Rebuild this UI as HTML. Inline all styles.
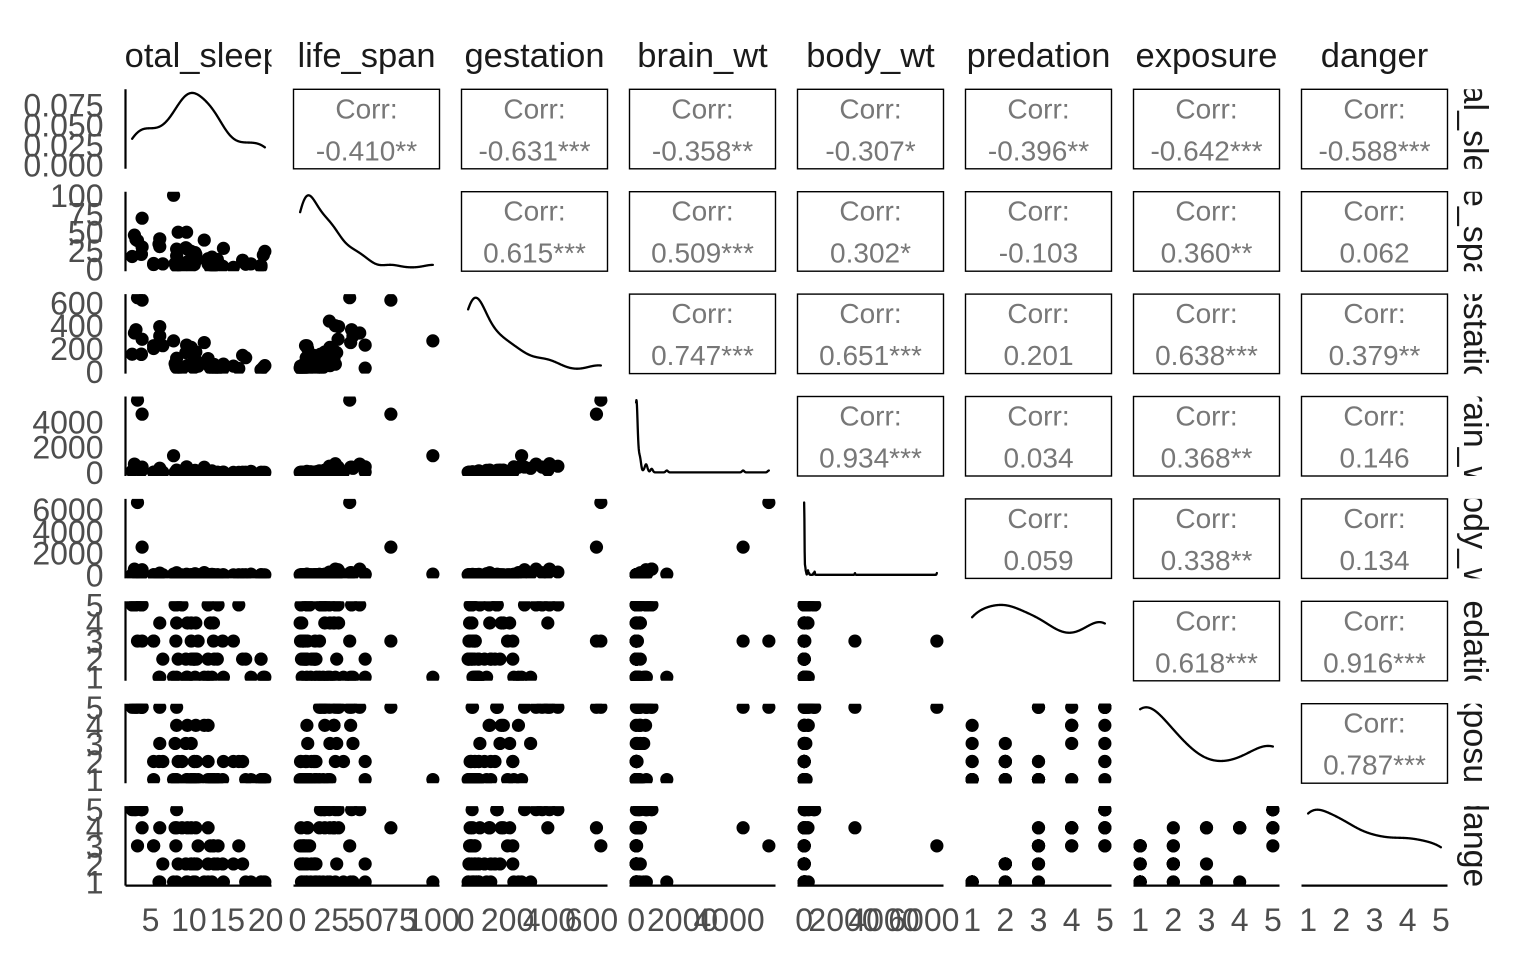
<!DOCTYPE html>
<html><head><meta charset="utf-8">
<style>
html,body{margin:0;padding:0;background:#fff;}
svg{display:block;}
text{font-family:"Liberation Sans", Arial, sans-serif;}
</style></head>
<body>
<svg id="s" width="1536" height="960" viewBox="0 0 1536 960" xmlns="http://www.w3.org/2000/svg">
<rect width="1536" height="960" fill="#fff"/>
<defs id="dd">
<clipPath id="hc1"><rect x="125.5" y="0" width="146" height="89"/></clipPath>
<clipPath id="hc2"><rect x="293.5" y="0" width="146" height="89"/></clipPath>
<clipPath id="hc3"><rect x="461.5" y="0" width="146" height="89"/></clipPath>
<clipPath id="hc4"><rect x="629.5" y="0" width="146" height="89"/></clipPath>
<clipPath id="hc5"><rect x="797.5" y="0" width="146" height="89"/></clipPath>
<clipPath id="hc6"><rect x="965.5" y="0" width="146" height="89"/></clipPath>
<clipPath id="hc7"><rect x="1133.5" y="0" width="146" height="89"/></clipPath>
<clipPath id="hc8"><rect x="1301.5" y="0" width="146" height="89"/></clipPath>
<clipPath id="rs1"><rect x="1440" y="89.3" width="96" height="79.5"/></clipPath>
<clipPath id="rs2"><rect x="1440" y="191.7" width="96" height="79.5"/></clipPath>
<clipPath id="rs3"><rect x="1440" y="294.1" width="96" height="79.5"/></clipPath>
<clipPath id="rs4"><rect x="1440" y="396.5" width="96" height="79.5"/></clipPath>
<clipPath id="rs5"><rect x="1440" y="498.9" width="96" height="79.5"/></clipPath>
<clipPath id="rs6"><rect x="1440" y="601.3" width="96" height="79.5"/></clipPath>
<clipPath id="rs7"><rect x="1440" y="703.7" width="96" height="79.5"/></clipPath>
<clipPath id="rs8"><rect x="1440" y="806.1" width="96" height="79.5"/></clipPath>
</defs>

<g id="plots"></g>

<!-- axis lines -->
<g stroke="#000" stroke-width="2.2" fill="none">
<line x1="125.5" y1="89.3" x2="125.5" y2="168.8"/>
<line x1="125.5" y1="191.7" x2="125.5" y2="271.2"/>
<line x1="125.5" y1="294.1" x2="125.5" y2="373.6"/>
<line x1="125.5" y1="396.5" x2="125.5" y2="476"/>
<line x1="125.5" y1="498.9" x2="125.5" y2="578.4"/>
<line x1="125.5" y1="601.3" x2="125.5" y2="680.8"/>
<line x1="125.5" y1="703.7" x2="125.5" y2="783.2"/>
<line x1="125.5" y1="806.1" x2="125.5" y2="885.6"/>
<line x1="125.5" y1="885.6" x2="271.5" y2="885.6"/>
<line x1="293.5" y1="885.6" x2="439.5" y2="885.6"/>
<line x1="461.5" y1="885.6" x2="607.5" y2="885.6"/>
<line x1="629.5" y1="885.6" x2="775.5" y2="885.6"/>
<line x1="797.5" y1="885.6" x2="943.5" y2="885.6"/>
<line x1="965.5" y1="885.6" x2="1111.5" y2="885.6"/>
<line x1="1133.5" y1="885.6" x2="1279.5" y2="885.6"/>
<line x1="1301.5" y1="885.6" x2="1447.5" y2="885.6"/>
</g>

<!-- correlation boxes -->
<g fill="none" stroke="#000" stroke-width="1.4">
<rect x="293.5" y="89.3" width="146" height="79.5"/>
<rect x="461.5" y="89.3" width="146" height="79.5"/>
<rect x="629.5" y="89.3" width="146" height="79.5"/>
<rect x="797.5" y="89.3" width="146" height="79.5"/>
<rect x="965.5" y="89.3" width="146" height="79.5"/>
<rect x="1133.5" y="89.3" width="146" height="79.5"/>
<rect x="1301.5" y="89.3" width="146" height="79.5"/>
<rect x="461.5" y="191.7" width="146" height="79.5"/>
<rect x="629.5" y="191.7" width="146" height="79.5"/>
<rect x="797.5" y="191.7" width="146" height="79.5"/>
<rect x="965.5" y="191.7" width="146" height="79.5"/>
<rect x="1133.5" y="191.7" width="146" height="79.5"/>
<rect x="1301.5" y="191.7" width="146" height="79.5"/>
<rect x="629.5" y="294.1" width="146" height="79.5"/>
<rect x="797.5" y="294.1" width="146" height="79.5"/>
<rect x="965.5" y="294.1" width="146" height="79.5"/>
<rect x="1133.5" y="294.1" width="146" height="79.5"/>
<rect x="1301.5" y="294.1" width="146" height="79.5"/>
<rect x="797.5" y="396.5" width="146" height="79.5"/>
<rect x="965.5" y="396.5" width="146" height="79.5"/>
<rect x="1133.5" y="396.5" width="146" height="79.5"/>
<rect x="1301.5" y="396.5" width="146" height="79.5"/>
<rect x="965.5" y="498.9" width="146" height="79.5"/>
<rect x="1133.5" y="498.9" width="146" height="79.5"/>
<rect x="1301.5" y="498.9" width="146" height="79.5"/>
<rect x="1133.5" y="601.3" width="146" height="79.5"/>
<rect x="1301.5" y="601.3" width="146" height="79.5"/>
<rect x="1301.5" y="703.7" width="146" height="79.5"/>
</g>

<g font-size="28" fill="#777" text-anchor="middle">
<text x="366.5" y="118.3">Corr:</text><text x="366.5" y="160.3">-0.410**</text>
<text x="534.5" y="118.3">Corr:</text><text x="534.5" y="160.3">-0.631***</text>
<text x="702.5" y="118.3">Corr:</text><text x="702.5" y="160.3">-0.358**</text>
<text x="870.5" y="118.3">Corr:</text><text x="870.5" y="160.3">-0.307*</text>
<text x="1038.5" y="118.3">Corr:</text><text x="1038.5" y="160.3">-0.396**</text>
<text x="1206.5" y="118.3">Corr:</text><text x="1206.5" y="160.3">-0.642***</text>
<text x="1374.5" y="118.3">Corr:</text><text x="1374.5" y="160.3">-0.588***</text>

<text x="534.5" y="220.7">Corr:</text><text x="534.5" y="262.7">0.615***</text>
<text x="702.5" y="220.7">Corr:</text><text x="702.5" y="262.7">0.509***</text>
<text x="870.5" y="220.7">Corr:</text><text x="870.5" y="262.7">0.302*</text>
<text x="1038.5" y="220.7">Corr:</text><text x="1038.5" y="262.7">-0.103</text>
<text x="1206.5" y="220.7">Corr:</text><text x="1206.5" y="262.7">0.360**</text>
<text x="1374.5" y="220.7">Corr:</text><text x="1374.5" y="262.7">0.062</text>

<text x="702.5" y="323.1">Corr:</text><text x="702.5" y="365.1">0.747***</text>
<text x="870.5" y="323.1">Corr:</text><text x="870.5" y="365.1">0.651***</text>
<text x="1038.5" y="323.1">Corr:</text><text x="1038.5" y="365.1">0.201</text>
<text x="1206.5" y="323.1">Corr:</text><text x="1206.5" y="365.1">0.638***</text>
<text x="1374.5" y="323.1">Corr:</text><text x="1374.5" y="365.1">0.379**</text>

<text x="870.5" y="425.5">Corr:</text><text x="870.5" y="467.5">0.934***</text>
<text x="1038.5" y="425.5">Corr:</text><text x="1038.5" y="467.5">0.034</text>
<text x="1206.5" y="425.5">Corr:</text><text x="1206.5" y="467.5">0.368**</text>
<text x="1374.5" y="425.5">Corr:</text><text x="1374.5" y="467.5">0.146</text>

<text x="1038.5" y="527.9">Corr:</text><text x="1038.5" y="569.9">0.059</text>
<text x="1206.5" y="527.9">Corr:</text><text x="1206.5" y="569.9">0.338**</text>
<text x="1374.5" y="527.9">Corr:</text><text x="1374.5" y="569.9">0.134</text>

<text x="1206.5" y="630.3">Corr:</text><text x="1206.5" y="672.3">0.618***</text>
<text x="1374.5" y="630.3">Corr:</text><text x="1374.5" y="672.3">0.916***</text>

<text x="1374.5" y="732.7">Corr:</text><text x="1374.5" y="774.7">0.787***</text>
</g>

<!-- column strip labels -->
<g font-size="34.5" fill="#1a1a1a" text-anchor="middle">
<text x="198.5" y="67" clip-path="url(#hc1)">total_sleep</text>
<text x="366.5" y="67" clip-path="url(#hc2)">life_span</text>
<text x="534.5" y="67" clip-path="url(#hc3)">gestation</text>
<text x="702.5" y="67" clip-path="url(#hc4)">brain_wt</text>
<text x="870.5" y="67" clip-path="url(#hc5)">body_wt</text>
<text x="1038.5" y="67" clip-path="url(#hc6)">predation</text>
<text x="1206.5" y="67" clip-path="url(#hc7)">exposure</text>
<text x="1374.5" y="67" clip-path="url(#hc8)">danger</text>
</g>

<!-- row strip labels -->
<g font-size="34" fill="#1a1a1a" text-anchor="middle">
<g clip-path="url(#rs1)"><text transform="translate(1464,129.05) rotate(90)">total_sleep</text></g>
<g clip-path="url(#rs2)"><text transform="translate(1464,231.45) rotate(90)">life_span</text></g>
<g clip-path="url(#rs3)"><text transform="translate(1464,333.85) rotate(90)">gestation</text></g>
<g clip-path="url(#rs4)"><text transform="translate(1464,436.25) rotate(90)">brain_wt</text></g>
<g clip-path="url(#rs5)"><text transform="translate(1464,538.65) rotate(90)">body_wt</text></g>
<g clip-path="url(#rs6)"><text transform="translate(1464,641.05) rotate(90)">predation</text></g>
<g clip-path="url(#rs7)"><text transform="translate(1464,743.45) rotate(90)">exposure</text></g>
<g clip-path="url(#rs8)"><text transform="translate(1464,845.85) rotate(90)">danger</text></g>
</g>

<!-- y tick labels -->
<g font-size="32" fill="#4d4d4d" text-anchor="end">
<text id="y1a" x="103.5" y="116.2">0.075</text>
<text id="y1b" x="103.5" y="136.3">0.050</text>
<text id="y1c" x="103.5" y="156.3">0.025</text>
<text id="y1d" x="103.5" y="176.7">0.000</text>

<text x="103.5" y="206.8">100</text>
<text x="103.5" y="225.3">75</text>
<text x="103.5" y="243.7">50</text>
<text x="103.5" y="262.1">25</text>
<text x="103.5" y="280.6">0</text>

<text x="103.5" y="314.4">600</text>
<text x="103.5" y="337.2">400</text>
<text x="103.5" y="360.0">200</text>
<text x="103.5" y="382.9">0</text>

<text x="103.5" y="433.3">4000</text>
<text x="103.5" y="458.6">2000</text>
<text x="103.5" y="483.9">0</text>

<text x="103.5" y="521.1">6000</text>
<text x="103.5" y="542.8">4000</text>
<text x="103.5" y="564.6">2000</text>
<text x="103.5" y="586.3">0</text>

<text x="103.5" y="616.4">5</text>
<text x="103.5" y="634.5">4</text>
<text x="103.5" y="652.6">3</text>
<text x="103.5" y="670.6">2</text>
<text x="103.5" y="688.7">1</text>

<text x="103.5" y="718.8">5</text>
<text x="103.5" y="736.9">4</text>
<text x="103.5" y="755.0">3</text>
<text x="103.5" y="773.0">2</text>
<text x="103.5" y="791.1">1</text>

<text x="103.5" y="821.2">5</text>
<text x="103.5" y="839.3">4</text>
<text x="103.5" y="857.4">3</text>
<text x="103.5" y="875.4">2</text>
<text x="103.5" y="893.5">1</text>
</g>

<!-- x tick labels -->
<g font-size="32" fill="#4d4d4d" text-anchor="middle">
<text x="150.55" y="931">5</text>
<text x="188.9" y="931">10</text>
<text x="227.27" y="931">15</text>
<text x="265.63" y="931">20</text>

<text x="297.43" y="931">0</text>
<text x="331.29" y="931">25</text>
<text x="365.15" y="931">50</text>
<text x="399.0" y="931">75</text>
<text x="432.86" y="931">100</text>

<text x="465.62" y="931">0</text>
<text x="507.56" y="931">200</text>
<text x="549.49" y="931">400</text>
<text x="591.43" y="931">600</text>

<text x="636.13" y="931">0</text>
<text x="682.6" y="931">2000</text>
<text x="729.08" y="931">4000</text>

<text x="804.14" y="931">0</text>
<text x="844.03" y="931">2000</text>
<text x="883.93" y="931">4000</text>
<text x="923.82" y="931">6000</text>

<text x="972.14" y="931">1</text>
<text x="1005.32" y="931">2</text>
<text x="1038.5" y="931">3</text>
<text x="1071.68" y="931">4</text>
<text x="1104.86" y="931">5</text>

<text x="1140.14" y="931">1</text>
<text x="1173.32" y="931">2</text>
<text x="1206.5" y="931">3</text>
<text x="1239.68" y="931">4</text>
<text x="1272.86" y="931">5</text>

<text x="1308.14" y="931">1</text>
<text x="1341.32" y="931">2</text>
<text x="1374.5" y="931">3</text>
<text x="1407.68" y="931">4</text>
<text x="1440.86" y="931">5</text>
</g>
</svg>

<script>
var NA=NaN;
var D=[
[3.3,38.6,645,5712,6654,3,5,3],
[8.3,4.5,42,6.6,1,3,1,3],
[12.5,14,60,44.5,3.385,1,1,1],
[16.5,NA,25,5.7,0.92,5,2,3],
[3.9,69,624,4603,2547,3,5,4],
[9.8,27,180,179.5,10.55,4,4,4],
[19.7,19,35,0.3,0.023,1,1,1],
[6.2,30.4,392,169,160,4,5,4],
[14.5,28,63,25.6,3.3,1,2,1],
[9.7,50,230,440,52.16,1,1,1],
[12.5,7,112,6.4,0.425,5,4,4],
[3.9,30,281,423,465,5,5,5],
[10.3,NA,NA,2.4,0.55,2,1,2],
[3.1,40,365,419,187.1,5,5,5],
[8.4,3.5,42,1.2,0.075,1,1,1],
[8.6,50,28,25,3,2,2,2],
[10.7,6,42,3.5,0.785,2,2,2],
[10.7,10.4,120,5,0.2,2,2,2],
[6.1,34,NA,17.5,1.41,1,2,1],
[18.1,7,NA,81,60,1,1,1],
[NA,28,400,680,529,5,5,5],
[3.8,20,148,115,27.66,5,5,5],
[14.4,3.9,16,1,0.12,3,1,2],
[12,39.3,252,406,207,1,4,1],
[6.2,41,310,325,85,1,3,1],
[13,16.2,63,119.5,36.33,1,1,1],
[13.8,9,28,4,0.101,5,1,3],
[8.2,7.6,68,5.5,1.04,5,3,4],
[2.9,46,336,655,521,5,5,5],
[10.8,22.4,100,157,100,1,1,1],
[NA,16.3,33,56,35,3,5,4],
[9.1,2.6,21.5,0.14,0.005,5,2,4],
[19.9,24,50,0.25,0.01,1,1,1],
[8,100,267,1320,62,1,1,1],
[10.6,NA,30,3,0.122,2,1,1],
[11.2,NA,45,8.1,1.35,3,1,3],
[13.2,3.2,19,0.4,0.023,4,1,3],
[12.8,2,30,0.33,0.048,4,1,3],
[19.4,5,12,6.3,1.7,2,1,1],
[17.4,6.5,120,10.8,3.5,2,1,1],
[NA,23.6,440,490,250,5,5,5],
[17,12,140,15.5,0.48,2,2,2],
[10.9,20.2,170,115,10,4,4,4],
[13.7,13,17,11.4,1.62,2,1,2],
[8.4,27,115,180,192,4,4,4],
[8.4,18,31,12.1,2.5,5,5,5],
[12.5,13.7,63,39.2,4.288,2,2,2],
[13.2,4.7,21,1.9,0.28,3,1,3],
[9.8,9.8,52,50.4,4.235,1,1,1],
[9.6,29,164,179,6.8,2,3,2],
[6.6,7,225,12.3,0.75,2,2,2],
[5.4,6,225,21,3.6,3,2,3],
[2.6,17,150,98.2,14.83,5,5,5],
[3.8,20,151,175,55.5,5,5,5],
[11,12.7,90,12.5,1.4,2,2,2],
[10.3,3.5,NA,1,0.06,3,1,2],
[13.3,4.5,60,2.6,0.9,2,1,2],
[5.4,7.5,200,12.3,2,3,1,3],
[15.8,2.3,46,2.5,0.104,3,2,2],
[10.3,24,210,58,4.19,4,3,4],
[19.4,3,14,3.9,3.5,2,1,1],
[NA,13,38,17,4.05,3,1,1]
];
(function(){
var NS="http://www.w3.org/2000/svg";
var L0=125.5,DX=168,W=146,T0=89.3,DY=102.4,H=79.5,R=6.6;
var lim=[],cols=[],k,i,j;
for(k=0;k<8;k++){var a=[];for(i=0;i<D.length;i++){var v=D[i][k];if(!isNaN(v))a.push(v);}
a.sort(function(p,q){return p-q;});cols.push(a);var mn=a[0],mx=a[a.length-1],e=(mx-mn)*0.05;lim.push([mn-e,mx+e]);}
function px(c,v){return L0+DX*c+(v-lim[c][0])/(lim[c][1]-lim[c][0])*W;}
function py(r,v){return T0+DY*r+H-(v-lim[r][0])/(lim[r][1]-lim[r][0])*H;}
var defs=document.getElementById('dd'),g=document.getElementById('plots');
function el(n,at,p){var e=document.createElementNS(NS,n);for(var key in at)e.setAttribute(key,at[key]);p.appendChild(e);return e;}
function clip(r,c){var id='cp'+r+'_'+c;var cp=el('clipPath',{id:id},defs);el('rect',{x:L0+DX*c,y:T0+DY*r,width:W,height:H},cp);return 'url(#'+id+')';}
for(var r=1;r<8;r++){for(var c=0;c<r;c++){var gg=el('g',{'clip-path':clip(r,c),fill:'#000'},g);
for(i=0;i<D.length;i++){var x=D[i][c],y=D[i][r];if(isNaN(x)||isNaN(y))continue;
el('circle',{cx:px(c,x).toFixed(2),cy:py(r,y).toFixed(2),r:R},gg);}}}
function q(a,p){var h=(a.length-1)*p,lo=Math.floor(h),hi=Math.min(lo+1,a.length-1);return a[lo]+(h-lo)*(a[hi]-a[lo]);}
for(k=0;k<8;k++){
var a=cols[k],n=a.length,m=0;for(i=0;i<n;i++)m+=a[i];m/=n;
var s=0;for(i=0;i<n;i++)s+=(a[i]-m)*(a[i]-m);s=Math.sqrt(s/(n-1));
var iqr=q(a,0.75)-q(a,0.25);var lo=Math.min(s,iqr/1.34);if(!(lo>0))lo=s;
var bw=0.9*lo*Math.pow(n,-0.2);
var mn=a[0],mx=a[n-1],N=512,ds=[],xs=[],dmax=0;
for(j=0;j<N;j++){var t=mn+(mx-mn)*j/(N-1),d=0;
for(i=0;i<n;i++){var z=(t-a[i])/bw;d+=Math.exp(-0.5*z*z);}
d/=(n*bw*Math.sqrt(2*Math.PI));xs.push(t);ds.push(d);if(d>dmax)dmax=d;}
var top=T0+DY*k,pts=[];
for(j=0;j<N;j++){pts.push(px(k,xs[j]).toFixed(2)+','+(top+H-(ds[j]+0.05*dmax)/(1.1*dmax)*H).toFixed(2));}
el('polyline',{points:pts.join(' '),fill:'none',stroke:'#000','stroke-width':2.3,'stroke-linejoin':'round','stroke-linecap':'round'},g);
if(k==0){var vals=[0.075,0.05,0.025,0],ids=['y1a','y1b','y1c','y1d'];
for(var u=0;u<4;u++){var yy=top+H-(vals[u]+0.05*dmax)/(1.1*dmax)*H+11.5;document.getElementById(ids[u]).setAttribute('y',yy.toFixed(2));}}
}
})();
</script>
</body></html>
